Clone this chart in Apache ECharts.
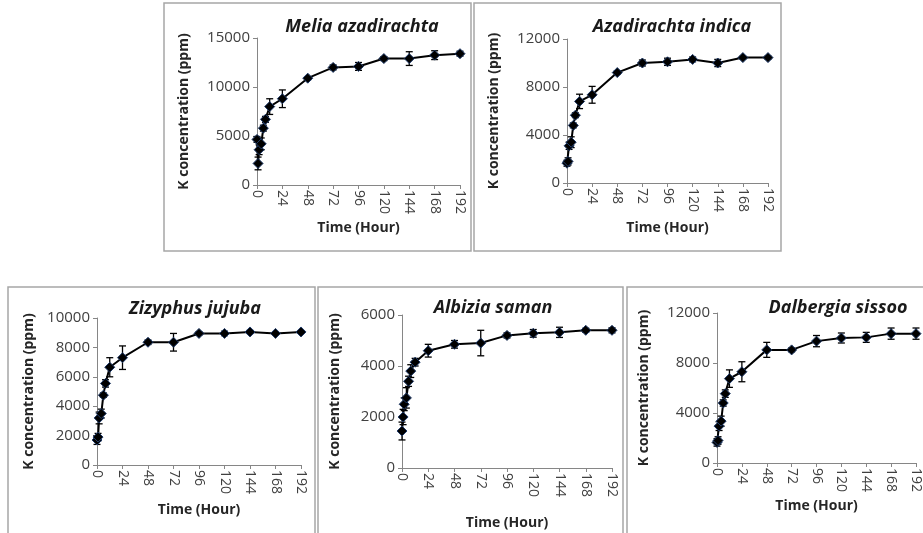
<!DOCTYPE html>
<html><head><meta charset="utf-8">
<script src="https://cdn.jsdelivr.net/npm/echarts@6/dist/echarts.min.js"></script>
<style>html,body{margin:0;padding:0;background:#fff;}#c{width:923px;height:533px;}</style>
</head><body><div id="c"></div>
<script>
// ---- data ----
const hours = [0, 1, 2, 4, 6, 8, 12, 24, 48, 72, 96, 120, 144, 168, 192];
const xTicks = [0, 24, 48, 72, 96, 120, 144, 168, 192];

const speciesNames = ['Melia azadirachta', 'Azadirachta indica', 'Zizyphus jujuba', 'Albizia saman', 'Dalbergia sissoo'];

const meliaMean = [4650, 2200, 3600, 4200, 5800, 6700, 8000, 8800, 10900, 12000, 12100, 12900, 12900, 13250, 13400];
const meliaErr  = [300, 650, 500, 600, 300, 300, 800, 900, 150, 250, 400, 200, 700, 450, 250];

const azadMean = [1650, 1800, 3100, 3400, 4800, 5650, 6800, 7350, 9200, 10000, 10100, 10300, 10000, 10450, 10450];
const azadErr  = [250, 300, 300, 450, 200, 200, 600, 700, 150, 250, 300, 200, 300, 100, 120];

const zizMean = [1700, 1900, 3200, 3500, 4750, 5550, 6650, 7300, 8350, 8350, 8950, 8950, 9050, 8950, 9050];
const zizErr  = [300, 250, 400, 300, 150, 250, 650, 800, 150, 600, 100, 150, 100, 80, 80];

const albMean = [1450, 2000, 2500, 2750, 3400, 3800, 4150, 4600, 4850, 4900, 5200, 5280, 5320, 5400, 5400];
const albErr  = [350, 300, 250, 400, 200, 250, 150, 250, 150, 500, 100, 150, 200, 80, 100];

const dalMean = [1650, 1800, 2950, 3350, 4800, 5550, 6750, 7300, 9050, 9050, 9750, 10000, 10050, 10350, 10350];
const dalErr  = [300, 300, 350, 400, 250, 300, 700, 800, 600, 150, 450, 400, 400, 450, 450];

const yMax = [15000, 12000, 10000, 6000, 12000];
const yStep = [5000, 4000, 2000, 2000, 4000];
const yTitle = 'K concentration (ppm)';
const xTitle = 'Time (Hour)';

const means = [meliaMean, azadMean, zizMean, albMean, dalMean];
const errs = [meliaErr, azadErr, zizErr, albErr, dalErr];

// ---- layout ----
const grids = [
  {left: 257, top: 38, width: 203, height: 147},
  {left: 567, top: 39, width: 201, height: 144},
  {left: 97, top: 318, width: 204, height: 147},
  {left: 402, top: 315, width: 210, height: 153},
  {left: 717, top: 313, width: 203, height: 150}
];
const boxes = [
  [164, 3, 307, 248],
  [474, 3, 307, 248],
  [8, 287, 307, 250],
  [318, 287, 305, 250],
  [627, 287, 300, 250]
];
const titlePos = [[357, 13], [667, 13], [190, 295], [488, 294], [833, 294]];
const yNameGap = [66, 66, 61, 60, 66];
const xNameGap = [36, 38, 38, 48, 36];

const FONT = 'Open Sans';
const option = {
  animation: false,
  backgroundColor: '#fff',
  title: speciesNames.map((n, i) => ({
    text: n, left: titlePos[i][0], top: titlePos[i][1], textAlign: 'center',
    textStyle: {fontFamily: FONT, fontSize: 18, fontStyle: 'italic', fontWeight: 'bold', color: '#1a1a1a'}
  })),
  graphic: boxes.map(b => ({
    type: 'rect', shape: {x: b[0], y: b[1], width: b[2], height: b[3]},
    style: {fill: 'none', stroke: '#a6a6a6', lineWidth: 1.5}, silent: true, z: -1
  })),
  grid: grids,
  xAxis: grids.map((g, i) => ({
    type: 'value', gridIndex: i, min: 0, max: 192, interval: 24,
    name: xTitle, nameLocation: 'middle', nameGap: xNameGap[i],
    nameTextStyle: {fontFamily: FONT, fontSize: 14, fontWeight: 'bold', color: '#262626'},
    axisLine: {show: true, lineStyle: {color: '#868686', width: 1}},
    axisTick: {show: true, inside: false, length: 4, lineStyle: {color: '#868686'}},
    axisLabel: {rotate: -90, fontFamily: FONT, fontSize: 14, color: '#404040', margin: 5,
      customValues: xTicks},
    splitLine: {show: false}
  })),
  yAxis: grids.map((g, i) => ({
    type: 'value', gridIndex: i, min: 0, max: yMax[i], interval: yStep[i],
    name: yTitle, nameLocation: 'middle', nameGap: yNameGap[i],
    nameTextStyle: {fontFamily: FONT, fontSize: 14, fontWeight: 'bold', color: '#262626'},
    axisLine: {show: true, lineStyle: {color: '#868686', width: 1}},
    axisTick: {show: true, inside: false, length: 4, lineStyle: {color: '#868686'}},
    axisLabel: {fontFamily: FONT, fontSize: 15, color: '#404040', margin: 7,
      formatter: v => String(v)},
    splitLine: {show: false}
  })),
  series: []
};

means.forEach((m, i) => {
  const e = errs[i];
  option.series.push({
    type: 'custom', xAxisIndex: i, yAxisIndex: i, z: 3,
    data: hours.map((h, k) => [h, m[k] - e[k], m[k] + e[k]]),
    encode: {x: 0, y: [1, 2]},
    renderItem: function (params, api) {
      const lo = api.coord([api.value(0), api.value(1)]);
      const hi = api.coord([api.value(0), api.value(2)]);
      const w = 3.5;
      const st = {stroke: '#000', lineWidth: 1.3};
      return {type: 'group', children: [
        {type: 'line', shape: {x1: lo[0], y1: lo[1], x2: hi[0], y2: hi[1]}, style: st},
        {type: 'line', shape: {x1: lo[0] - w, y1: lo[1], x2: lo[0] + w, y2: lo[1]}, style: st},
        {type: 'line', shape: {x1: hi[0] - w, y1: hi[1], x2: hi[0] + w, y2: hi[1]}, style: st}
      ]};
    }
  });
  option.series.push({
    type: 'line', xAxisIndex: i, yAxisIndex: i, z: 4,
    data: hours.map((h, k) => [h, m[k]]),
    symbol: 'diamond', symbolSize: 10,
    lineStyle: {color: '#000', width: 2},
    itemStyle: {color: '#000', borderColor: '#1f3a68', borderWidth: 1}
  });
});

const chart = echarts.init(document.getElementById('c'));
chart.setOption(option);
</script>
</body></html>
